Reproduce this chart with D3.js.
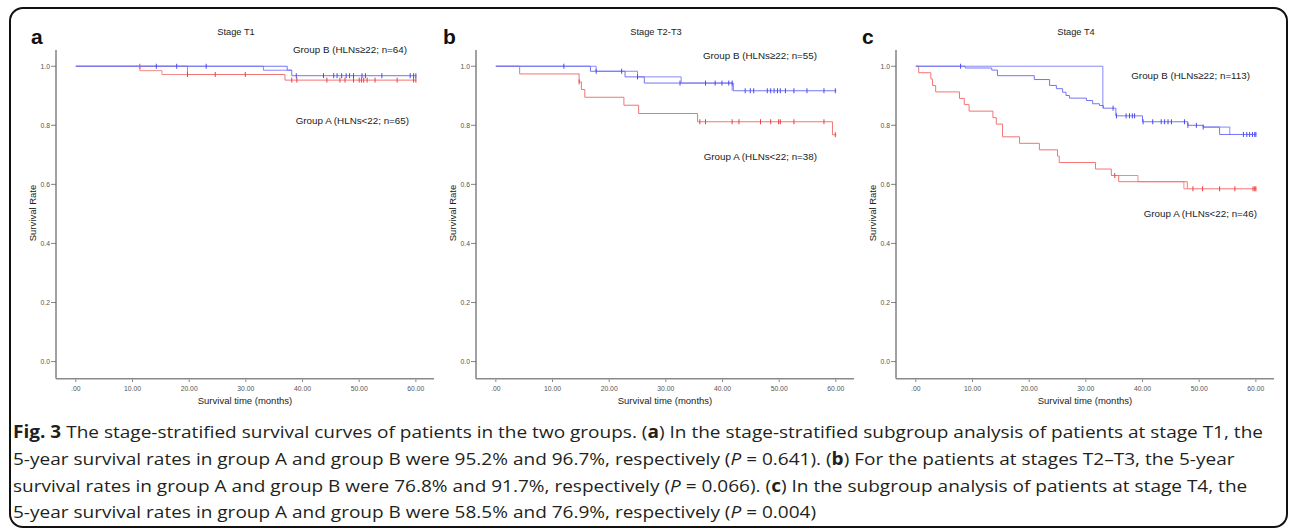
<!DOCTYPE html>
<html>
<head>
<meta charset="utf-8">
<script src="https://cdn.jsdelivr.net/npm/d3@7"></script>
<style>
  body { margin: 0; background: #fff; }
  svg { display: block; }
</style>
</head>
<body>
<svg id="chart" width="1290" height="532"></svg>
<script>
// panel titles / letters / legends
var panelLetters = ["a", "b", "c"];
var panelTitles = ["Stage T1", "Stage T2-T3", "Stage T4"];
var groupBLabels = ["Group B (HLNs\u226522; n=64)", "Group B (HLNs\u226522; n=55)", "Group B (HLNs\u226522; n=113)"];
var groupALabels = ["Group A (HLNs<22; n=65)", "Group A (HLNs<22; n=38)", "Group A (HLNs<22; n=46)"];

var xTicks = [0, 10, 20, 30, 40, 50, 60];
var xTickLabels = [".00", "10.00", "20.00", "30.00", "40.00", "50.00", "60.00"];
var yTicks = [0, 0.2, 0.4, 0.6, 0.8, 1.0];
var yTickLabels = ["0.0", "0.2", "0.4", "0.6", "0.8", "1.0"];

// Kaplan-Meier steps [months, survival]; "ghost" = the second overlaid trace seen in the figure
var aBlue = [[0,1],[37.3,0.9865],[38.1,0.968],[60.1,0.968]];
var aBlueGhost = [[0,1],[33.1,0.9865],[38.1,0.9865]];
var aRed = [[0,1],[19.7,0.972],[36.9,0.953],[60.1,0.953]];
var aRedGhost = [[11.3,1],[11.3,0.985],[15.2,0.972],[19.7,0.972]];
var aBlueCens = [14.2,17.8,23.0,38.9,43.7,45.5,46.1,46.9,47.7,48.3,49.0,50.5,51.1,54.0,59.0,59.6,60.0];
var aRedCens = [11.3,19.7,24.6,29.9,38.1,39.0,44.3,46.6,47.5,49.0,50.0,50.4,50.8,51.4,52.8,56.7,59.6,60.0];

var bBlue = [[0,1],[16.7,0.983],[22.8,0.964],[26.2,0.943],[41.9,0.917],[60.1,0.917]];
var bBlueGhost = [[0,1],[17.7,0.983],[25.0,0.964],[32.7,0.943],[41.7,0.917]];
var bRed = [[0,1],[4.2,0.974],[14.7,0.947],[15.1,0.921],[15.7,0.895],[22.6,0.868],[25.2,0.840],[35.6,0.812],[59.4,0.768],[60.1,0.768]];
var bRedGhost = [];
var bBlueCens = [12.0,17.7,22.2,25.0,32.5,37.0,38.7,39.9,41.1,41.7,44.0,44.9,45.5,47.9,48.5,49.1,49.7,50.2,51.1,52.6,54.9,57.9,59.9];
var bRedCens = [14.7,36.0,37.0,41.7,42.9,46.7,48.5,49.9,50.2,52.6,57.9,59.9];

var cBlue = [[0,1],[8.7,0.994],[13.4,0.987],[14.4,0.968],[20.9,0.955],[23.6,0.935],[24.8,0.924],[25.9,0.912],[26.5,0.901],[27.1,0.892],[30.1,0.884],[31.2,0.873],[32.4,0.867],[33.1,0.858],[35.3,0.832],[40.0,0.812],[48.0,0.800],[50.7,0.794],[53.6,0.769],[60.1,0.769]];
var cBlueGhost = [[0,1],[33.0,0.858],[33.1,0.858]];
var cBlueGhost2 = [[50.7,0.794],[55.4,0.769],[55.5,0.769]];
var cRed = [[0,1],[0.5,0.978],[2.65,0.957],[2.95,0.935],[3.5,0.913],[7.7,0.891],[8.55,0.870],[9.4,0.848],[13.6,0.826],[14.2,0.804],[15.3,0.761],[18.3,0.739],[21.8,0.717],[25.0,0.696],[25.3,0.674],[31.7,0.652],[34.5,0.630],[35.8,0.609],[47.9,0.585],[60.1,0.585]];
var cRedGhost = [[34.5,0.630],[39.2,0.609],[47.3,0.585],[47.9,0.585]];
var cBlueCens = [7.9,34.8,35.4,37.1,37.7,38.2,38.6,40.1,41.8,43.3,43.9,44.5,45.1,47.4,48.0,49.5,50.7,57.8,58.4,58.9,59.4,59.8,60.0];
var cRedCens = [35.1,48.9,50.6,53.6,56.3,59.5,59.8,60.0];

var panels = [
  {blue: aBlue, blueGhosts: [aBlueGhost], red: aRed, redGhosts: [aRedGhost], blueCens: aBlueCens, redCens: aRedCens},
  {blue: bBlue, blueGhosts: [bBlueGhost], red: bRed, redGhosts: [bRedGhost], blueCens: bBlueCens, redCens: bRedCens},
  {blue: cBlue, blueGhosts: [cBlueGhost, cBlueGhost2], red: cRed, redGhosts: [cRedGhost], blueCens: cBlueCens, redCens: cRedCens}
];

// caption lines (segments: [text, style])
var captionLines = [
  [["Fig. 3", "b"], [" The stage-stratified survival curves of patients in the two groups. (", ""], ["a", "b"], [") In the stage-stratified subgroup analysis of patients at stage T1, the", ""]],
  [["5-year survival rates in group A and group B were 95.2% and 96.7%, respectively (", ""], ["P", "i"], [" = 0.641). (", ""], ["b", "b"], [") For the patients at stages T2\u2013T3, the 5-year", ""]],
  [["survival rates in group A and group B were 76.8% and 91.7%, respectively (", ""], ["P", "i"], [" = 0.066). (", ""], ["c", "b"], [") In the subgroup analysis of patients at stage T4, the", ""]],
  [["5-year survival rates in group A and group B were 58.5% and 76.9%, respectively (", ""], ["P", "i"], [" = 0.004)", ""]]
];

var svg = d3.select("#chart");

// outer frame
svg.append("rect")
  .attr("x", 10).attr("y", 8)
  .attr("width", 1277).attr("height", 519)
  .attr("rx", 13).attr("ry", 13)
  .attr("fill", "none").attr("stroke", "#111").attr("stroke-width", 2);

var blueLine = "#7474f6", blueMark = "#4a4af2";
var redLine = "#f47474", redMark = "#ee3e3e";
var axisColor = "#8a8a8a";
var font = "'Liberation Sans', Arial, sans-serif";

panels.forEach(function(p, i) {
  var ox = i * 420;
  var g = svg.append("g").attr("transform", "translate(" + ox + ",0)");

  var x = d3.scaleLinear().domain([-3.5, 63.2]).range([56, 434]);
  var y = d3.scaleLinear().domain([-0.058, 1.055]).range([378.7, 50]);

  // axis lines
  g.append("line").attr("x1", x(-3.5)).attr("x2", x(-3.5)).attr("y1", y(1.055)).attr("y2", y(-0.058))
    .attr("stroke", axisColor).attr("stroke-width", 1.6);
  g.append("line").attr("x1", x(-3.5)).attr("x2", x(63.2)).attr("y1", y(-0.058)).attr("y2", y(-0.058))
    .attr("stroke", axisColor).attr("stroke-width", 1.6);

  // y ticks
  var yt = g.selectAll(".yt").data(yTicks).enter().append("g");
  yt.append("line").attr("x1", 51).attr("x2", 56)
    .attr("y1", function(d) { return y(d); }).attr("y2", function(d) { return y(d); })
    .attr("stroke", "#666").attr("stroke-width", 0.8);
  yt.append("text").attr("x", 50).attr("y", function(d) { return y(d) + 2.4; })
    .attr("text-anchor", "end").style("font", "6.8px " + font).attr("fill", "#555")
    .text(function(d, k) { return yTickLabels[k]; });

  // x ticks
  var xt = g.selectAll(".xt").data(xTicks).enter().append("g");
  xt.append("line").attr("x1", function(d) { return x(d); }).attr("x2", function(d) { return x(d); })
    .attr("y1", 379.5).attr("y2", 382).attr("stroke", "#666").attr("stroke-width", 0.8);
  xt.append("text").attr("x", function(d) { return x(d); }).attr("y", 390.5)
    .attr("text-anchor", "middle").style("font", "6.8px " + font).attr("fill", "#555")
    .text(function(d, k) { return xTickLabels[k]; });

  // axis titles
  g.append("text").attr("x", 245).attr("y", 404).attr("text-anchor", "middle")
    .style("font", "9.5px " + font).attr("fill", "#222").text("Survival time (months)");
  g.append("text").attr("transform", "translate(36,213) rotate(-90)").attr("text-anchor", "middle")
    .style("font", "9.5px " + font).attr("fill", "#222").text("Survival Rate");

  // panel title and letter
  g.append("text").attr("x", 236).attr("y", 35).attr("text-anchor", "middle")
    .style("font", "9.3px " + font).attr("fill", "#222").text(panelTitles[i]);
  g.append("text").attr("x", [31, 23, 22][i]).attr("y", 44)
    .style("font", "bold 21px " + font).attr("fill", "#111").text(panelLetters[i]);

  // group labels
  var bPos = [[407, 52.5], [397, 59], [410, 78.5]][i];
  var aPos = [[409, 124], [397, 160], [417, 216.5]][i];
  g.append("text").attr("x", bPos[0]).attr("y", bPos[1]).attr("text-anchor", "end")
    .style("font", "9.8px " + font).attr("fill", "#222").text(groupBLabels[i]);
  g.append("text").attr("x", aPos[0]).attr("y", aPos[1]).attr("text-anchor", "end")
    .style("font", "9.8px " + font).attr("fill", "#222").text(groupALabels[i]);

  var line = d3.line().curve(d3.curveStepAfter)
    .x(function(d) { return x(d[0]); })
    .y(function(d) { return y(d[1]); });

  function survAt(steps, t) {
    var s = steps[0][1];
    steps.forEach(function(d) { if (d[0] <= t) s = d[1]; });
    return s;
  }

  function drawGroup(main, ghosts, cens, lc, mc) {
    ghosts.forEach(function(gh) {
      if (gh.length) g.append("path").attr("d", line(gh)).attr("fill", "none")
        .attr("stroke", lc).attr("stroke-width", 1).attr("opacity", 0.85);
    });
    g.append("path").attr("d", line(main)).attr("fill", "none")
      .attr("stroke", lc).attr("stroke-width", 1);
    g.selectAll(null).data(cens).enter().append("line")
      .attr("x1", function(t) { return x(t); }).attr("x2", function(t) { return x(t); })
      .attr("y1", function(t) { return y(survAt(main, t)) - 2.5; })
      .attr("y2", function(t) { return y(survAt(main, t)) + 2.5; })
      .attr("stroke", mc).attr("stroke-width", 1);
  }

  drawGroup(p.red, p.redGhosts, p.redCens, redLine, redMark);
  drawGroup(p.blue, p.blueGhosts, p.blueCens, blueLine, blueMark);
});

// caption
var capFont = "'Open Sans', 'Noto Sans', sans-serif";
var capY = [437.5, 464.5, 491.5, 518];
var capTexts = captionLines.map(function(segs, k) {
  var t = svg.append("text").attr("x", 13).attr("y", capY[k])
    .style("font", "17px " + capFont).attr("fill", "#231f20");
  segs.forEach(function(s) {
    var ts = t.append("tspan").text(s[0]);
    if (s[1] === "b") ts.attr("font-weight", "bold");
    if (s[1] === "i") ts.attr("font-style", "italic");
  });
  return t;
});
var len0 = capTexts[0].node().getComputedTextLength();
var k = 1250 / len0;
capTexts.forEach(function(t) {
  var L = t.node().getComputedTextLength();
  t.attr("textLength", L * k).attr("lengthAdjust", "spacingAndGlyphs");
});
</script>
</body>
</html>
